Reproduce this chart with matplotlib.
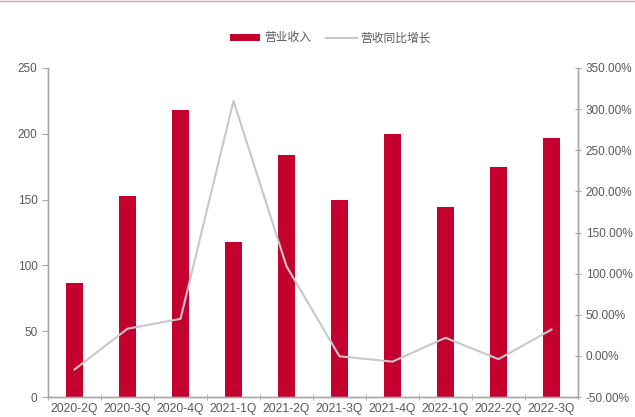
import matplotlib
matplotlib.use("Agg")
import matplotlib.pyplot as plt
from matplotlib.ticker import FuncFormatter, FixedLocator
import numpy as np

plt.rcParams['font.family'] = ['Liberation Sans', 'Noto Sans CJK SC', 'DejaVu Sans']

quarters = ['2020-2Q', '2020-3Q', '2020-4Q', '2021-1Q', '2021-2Q',
            '2021-3Q', '2021-4Q', '2022-1Q', '2022-2Q', '2022-3Q']
revenue = [87, 153, 218, 118, 184, 150, 200, 144, 175, 197]
yoy_growth = [-16.6, 33, 45, 310, 109, -0.5, -7, 22, -4, 32]

bar_color = '#C4002F'
line_color = '#C8C8C8'
text_color = '#595959'
axis_color = '#A6A6A6'

fig = plt.figure(figsize=(6.35, 4.17), dpi=100)
ax1 = fig.add_axes([48 / 635, 20 / 417, 530 / 635, 329 / 417])
x = np.arange(len(quarters))

ax1.bar(x, revenue, width=0.32, color=bar_color, label='营业收入', zorder=2)
ax1.set_xlim(-0.5, len(quarters) - 0.5)
ax1.set_ylim(0, 250)
ax1.set_yticks(range(0, 251, 50))

ax2 = ax1.twinx()
ax2.plot(x, yoy_growth, color=line_color, lw=1.5, label='营收同比增长', zorder=3)
ax2.set_ylim(-50, 350)
ax2.set_yticks(range(-50, 351, 50))
ax2.yaxis.set_major_formatter(FuncFormatter(lambda v, p: f'{v:.2f}%'))

ax1.set_xticks(x)
ax1.set_xticklabels(quarters)
ax1.xaxis.set_minor_locator(FixedLocator(np.arange(-0.5, len(quarters), 1)))
ax1.tick_params(axis='x', which='major', length=0, pad=4, labelsize=8.7, colors=text_color)
ax1.tick_params(axis='x', which='minor', length=4, direction='inout', color=axis_color)
ax1.tick_params(axis='y', length=4, direction='out', color=axis_color, labelcolor=text_color, labelsize=8.5)
ax2.tick_params(axis='y', length=4, direction='inout', color=axis_color, labelcolor=text_color, labelsize=8.5)

for ax in (ax1, ax2):
    ax.spines['top'].set_visible(False)
    for s in ('left', 'right', 'bottom'):
        ax.spines[s].set_color(axis_color)
        ax.spines[s].set_linewidth(1)

# legend
h1, l1 = ax1.get_legend_handles_labels()
h2, l2 = ax2.get_legend_handles_labels()
fig.legend(h1 + h2, l1 + l2, loc='center', bbox_to_anchor=(0.52, 1 - 38 / 417), ncol=2,
           frameon=False, labelcolor=text_color, handlelength=2.6,
           handleheight=0.5, columnspacing=1.3, handletextpad=0.3,
           prop={'family': ['Noto Sans CJK SC'], 'size': 8.5})

# thin red rule at the top of the picture
fig.add_artist(plt.Line2D([0, 1], [0.997, 0.997], color='#E8A0A8', lw=1))

fig.savefig('out.png', dpi=100)
